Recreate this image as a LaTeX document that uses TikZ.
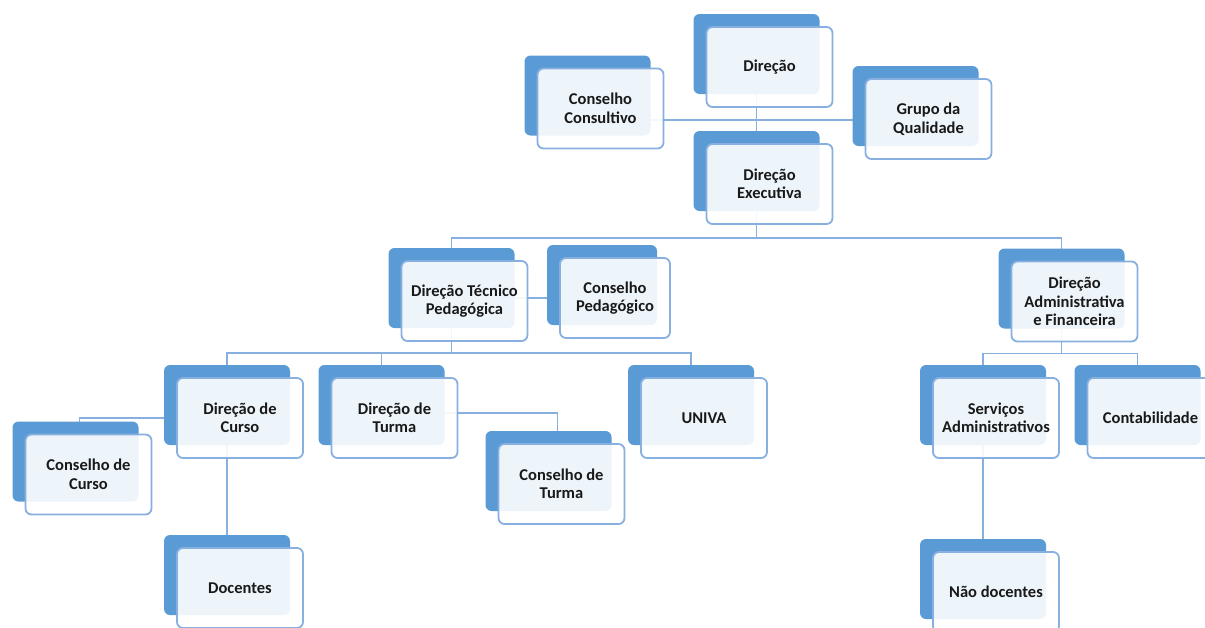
\documentclass[tikz,border=0pt]{standalone}
\usepackage{fontspec}
\setmainfont{Carlito}
\usepackage{xcolor}
\usepackage{tikz}
\usetikzlibrary{calc}
\usetikzlibrary{shadows}
\usetikzlibrary{backgrounds}

\definecolor{boxblue}{RGB}{91,155,213}
\definecolor{lineblue}{RGB}{135,175,224}

\begin{document}
\begin{tikzpicture}[x=1pt, y=-1pt, node distance=117pt,
  orgbox/.style={draw=lineblue, line width=1.8pt, rounded corners=6pt,
    fill=white, fill opacity=0.9, text opacity=1, text=black!90,
    minimum width=126pt, minimum height=80pt, inner sep=2pt, align=center,
    font=\fontsize{16.5}{18.5}\selectfont\bfseries,
    general shadow={fill=boxblue, fill opacity=1, shadow xshift=-13pt, shadow yshift=13pt}},
  link/.style={draw=lineblue, line width=1.8pt}]
\useasboundingbox (0,0) rectangle (1205,627);

\node (direcao) [orgbox] at (769.5,67) {Direção};
\node (executiva) [orgbox, below of=direcao] {Direção\\Executiva};
\node (consultivo) [orgbox] at (600.5,108.5) {Conselho\\Consultivo};
\node (qualidade) [orgbox] at (928.5,119) {Grupo da\\Qualidade};

\node (tecnico) [orgbox] at (464.5,301) {Direção Técnico\\Pedagógica};
\node (pedagogico) [orgbox, minimum width=110pt] at (615,298) {Conselho\\Pedagógico};
\node (admfin) [orgbox] at (1074.5,301.5) {Direção\\Administrativa\\e Financeira};

\node (dcurso) [orgbox] at (240,418) {Direção de\\Curso};
\node (dturma) [orgbox, node distance=154.5pt, right of=dcurso] {Direção de\\Turma};
\node (univa) [orgbox] at (704,418) {UNIVA};
\node (ccurso) [orgbox] at (88.5,474.5) {Conselho de\\Curso};
\node (cturma) [orgbox] at (561.5,484) {Conselho de\\Turma};
\node (docentes) [orgbox, node distance=170pt, below of=dcurso] {Docentes};

\node (servicos) [orgbox] at (996,418) {Serviços\\Administrativos};
\node (contab) [orgbox, node distance=154.5pt, right of=servicos] {Contabilidade};
\node (naodoc) [orgbox, node distance=174pt, below of=servicos] {Não docentes};

\begin{scope}[on background layer]
% top
\coordinate (jq) at ([xshift=-13pt,yshift=-12pt]direcao.south);
\draw[link] ([xshift=-13pt]direcao.center) -- ([xshift=-13pt]executiva.center);
\draw[link] (consultivo.center |- jq) -- (qualidade.center |- jq);

\coordinate (bus1) at ([xshift=-13pt,yshift=-13pt]executiva.south);
\draw[link] ([xshift=-13pt]executiva.center) -- (bus1);
\draw[link] ([xshift=-13pt]tecnico.center) |- (bus1) -| ([xshift=-13pt]admfin.center);

% pedagogical side
\draw[link] (tecnico.center |- pedagogico.center) -- (pedagogico.center);
\coordinate (bus2) at ([xshift=-13pt,yshift=-11pt]tecnico.south);
\draw[link] ([xshift=-13pt]tecnico.center) -- (bus2);
\draw[link] ([xshift=-13pt]dcurso.center) |- (bus2) -| ([xshift=-13pt]univa.center);
\draw[link] ([xshift=-13pt]dturma.center) |- (bus2);
\draw[link] ([xshift=-13pt]dcurso.center) -| ([xshift=-9pt]ccurso.center);
\draw[link] ([yshift=5pt]dturma.center) -| ([xshift=-4pt]cturma.center);
\draw[link] ([xshift=-13pt]dcurso.center) -- ([xshift=-13pt]docentes.center);

% administrative side
\coordinate (bus3) at ([xshift=-13pt,yshift=-11pt]admfin.south);
\draw[link] ([xshift=-13pt]admfin.center) -- (bus3);
\draw[link] ([xshift=-13pt]servicos.center) |- (bus3) -| ([xshift=-13pt]contab.center);
\draw[link] ([xshift=-13pt]servicos.center) -- ([xshift=-13pt]naodoc.center);
\end{scope}

\end{tikzpicture}
\end{document}
